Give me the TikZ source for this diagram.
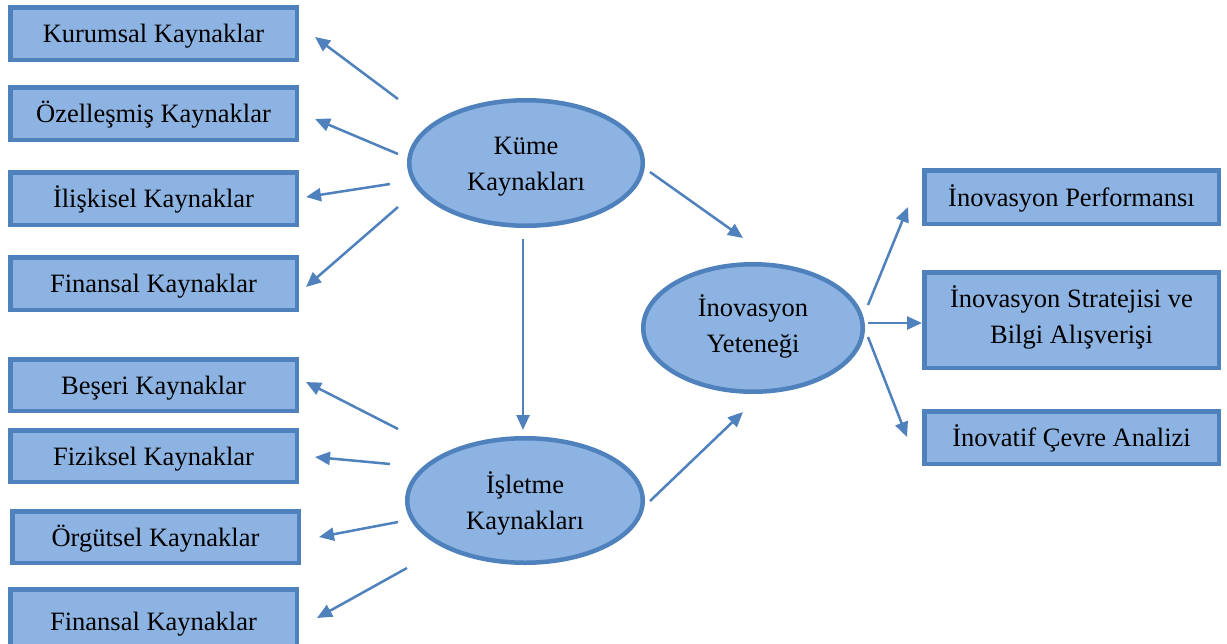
\documentclass[tikz,border=0pt]{standalone}
\usepackage{fontspec}
\setmainfont{Liberation Serif}
\usetikzlibrary{arrows.meta,shapes.geometric}
\definecolor{edgeblue}{HTML}{4F81BD}
\definecolor{fillblue}{HTML}{8DB3E2}
\tikzset{
  txt/.style={font=\fontsize{26.5}{36}\selectfont, text=black, align=center, inner sep=0pt,
              text height=18pt, text depth=-3pt},
  resbox/.style={txt, draw=edgeblue, fill=fillblue, line width=4.5pt, rectangle},
  latent/.style={txt, draw=edgeblue, fill=fillblue, line width=4.5pt, ellipse},
  link/.style={draw=edgeblue, line width=2.5pt, -{Triangle[length=15pt,width=13pt]}}
}
\begin{document}
\begin{tikzpicture}[x=1pt,y=-1pt]
\useasboundingbox (0,0) rectangle (1227,643);
\clip (0,0) rectangle (1227,643);
\fill[white] (0,0) rectangle (1227,643);

% left column: cluster resources
\node[resbox, minimum width=286.5pt, minimum height=52.5pt] (kur) at (153.5,33.5) {Kurumsal Kaynaklar};
\node[resbox, minimum width=286.5pt, minimum height=52.5pt] (oze) at (153.5,113.5) {Özelleşmiş Kaynaklar};
\node[resbox, minimum width=286.5pt, minimum height=52.5pt] (ili) at (153.5,198.5) {İlişkisel Kaynaklar};
\node[resbox, minimum width=286.5pt, minimum height=52.5pt] (fin1) at (153.5,283.5) {Finansal Kaynaklar};

% left column: firm resources
\node[resbox, minimum width=286.5pt, minimum height=51.5pt] (bes) at (153.5,385) {Beşeri Kaynaklar};
\node[resbox, minimum width=286.5pt, minimum height=51.5pt] (fiz) at (153.5,456) {Fiziksel Kaynaklar};
\node[resbox, minimum width=286.5pt, minimum height=51.5pt] (org) at (155.5,537) {Örgütsel Kaynaklar};
\node[resbox, minimum width=286.5pt, minimum height=63.5pt] (fin2) at (153.5,621) {Finansal Kaynaklar};

% right column: outcomes
\node[resbox, minimum width=294.5pt, minimum height=53.5pt] (perf) at (1071.5,197) {İnovasyon Performansı};
\node[resbox, minimum width=294.5pt, minimum height=95.5pt, text height=46pt] (str) at (1071.5,320) {İnovasyon Stratejisi ve\\Bilgi Alışverişi};
\node[resbox, minimum width=294.5pt, minimum height=52.5pt] (cev) at (1071.5,437.5) {İnovatif Çevre Analizi};

% latent constructs
\node[latent, minimum width=233.5pt, minimum height=125.5pt, text height=54pt] (kume) at (526,163) {Küme\\Kaynakları};
\node[latent, minimum width=235.5pt, minimum height=124.5pt, text height=58pt] (isl) at (525,500.5) {İşletme\\Kaynakları};
\node[latent, minimum width=219.5pt, minimum height=127.5pt, text height=49pt] (inov) at (753,328) {İnovasyon\\Yeteneği};

% connector end points
\coordinate (a1s) at (398,99);  \coordinate (a1e) at (315,37);
\coordinate (a2s) at (398,154); \coordinate (a2e) at (315,119);
\coordinate (a3s) at (390,184); \coordinate (a3e) at (306,197);
\coordinate (a4s) at (398,207); \coordinate (a4e) at (306,287);
\coordinate (b1s) at (398,429); \coordinate (b1e) at (306,382);
\coordinate (b2s) at (390,464); \coordinate (b2e) at (315,457);
\coordinate (b3s) at (398,522); \coordinate (b3e) at (319,537);
\coordinate (b4s) at (407,568); \coordinate (b4e) at (317,618);
\coordinate (vs) at (523,239);  \coordinate (ve) at (523,430);
\coordinate (c1s) at (650,172); \coordinate (c1e) at (743,238);
\coordinate (c2s) at (650,501); \coordinate (c2e) at (743,412);
\coordinate (r1s) at (868,305); \coordinate (r1e) at (908,207);
\coordinate (r2s) at (868,323); \coordinate (r2e) at (922,323);
\coordinate (r3s) at (868,337); \coordinate (r3e) at (907,437);

% connectors
\foreach \a in {a1,a2,a3,a4,b1,b2,b3,b4,v,c1,c2,r1,r2,r3}
  \draw[link] (\a s) -- (\a e);
\end{tikzpicture}
\end{document}
